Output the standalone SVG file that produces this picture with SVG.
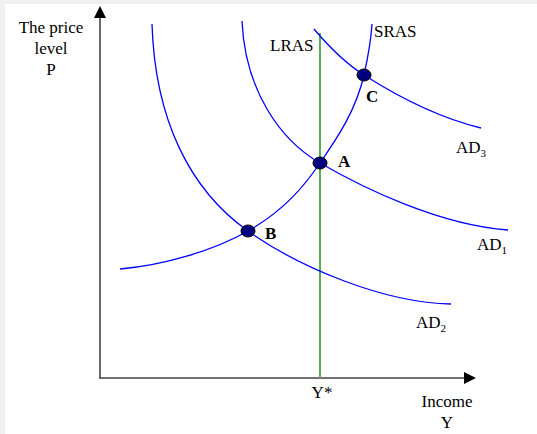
<svg xmlns="http://www.w3.org/2000/svg" width="537" height="434" viewBox="0 0 537 434">
<style>
text{font-family:"Liberation Serif","Times New Roman",serif;font-size:17px;fill:#000}
.b{font-weight:bold}
.sub{font-size:11px}
.curve{fill:none;stroke:#0000ff;stroke-width:1.3}
.axis{fill:none;stroke:#444;stroke-width:1.6}
.dot{fill:#000080;stroke:#000;stroke-width:1}
</style>
<rect x="0" y="0" width="537" height="434" fill="#f0f0f0"/>
<rect x="5" y="4" width="532" height="430" fill="#fff"/>
<g id="connectors">
<g id="axes">
<line class="axis" x1="100" y1="378" x2="100" y2="16"/>
<polygon points="100,6 94,18 106,18" fill="#000"/>
<line class="axis" x1="99" y1="378" x2="466" y2="378"/>
<polygon points="476,378 464,372 464,384" fill="#000"/>
</g>
<line id="lras-line" x1="320" y1="33" x2="320" y2="378" stroke="#55b055" stroke-width="2"/>
<path id="ad2" class="curve" d="M152,24 C155,120 190,190 248,231 C300,268 385,303 451,304"/>
<path id="ad1" class="curve" d="M242,21 C245,90 280,140 320,163 C365,189 440,225 508,230"/>
<path id="ad3" class="curve" d="M314,29 C330,48 345,63 364,75 C400,98 440,118 481,128"/>
<path id="sras" class="curve" d="M120,269 C165,265 215,250 248,231 C285,210 305,185 320,163 C338,137 356,110 364,75 C368,57 371,40 372,24"/>
</g>
<g id="label-p"><text x="51" y="33" text-anchor="middle">The price</text><text x="51" y="54" text-anchor="middle">level</text><text x="51" y="75" text-anchor="middle">P</text></g>
<g id="label-lras"><text x="270" y="51">LRAS</text></g>
<g id="label-sras"><text x="374" y="37">SRAS</text></g>
<g id="point-a"><ellipse class="dot" cx="320" cy="163" rx="7" ry="6"/><text class="b" x="338" y="167">A</text></g>
<g id="point-b"><ellipse class="dot" cx="248" cy="231" rx="7" ry="6"/><text class="b" x="265" y="239">B</text></g>
<g id="point-c"><ellipse class="dot" cx="364" cy="75" rx="7" ry="6"/><text class="b" x="366" y="102">C</text></g>
<g id="label-ad3"><text x="456" y="153">AD<tspan class="sub" dy="4">3</tspan></text></g>
<g id="label-ad1"><text x="477" y="250">AD<tspan class="sub" dy="4">1</tspan></text></g>
<g id="label-ad2"><text x="416" y="328">AD<tspan class="sub" dy="4">2</tspan></text></g>
<g id="label-ystar"><text x="322" y="398" text-anchor="middle">Y*</text></g>
<g id="label-income"><text x="447" y="407" text-anchor="middle">Income</text><text x="447" y="428" text-anchor="middle">Y</text></g>
</svg>
